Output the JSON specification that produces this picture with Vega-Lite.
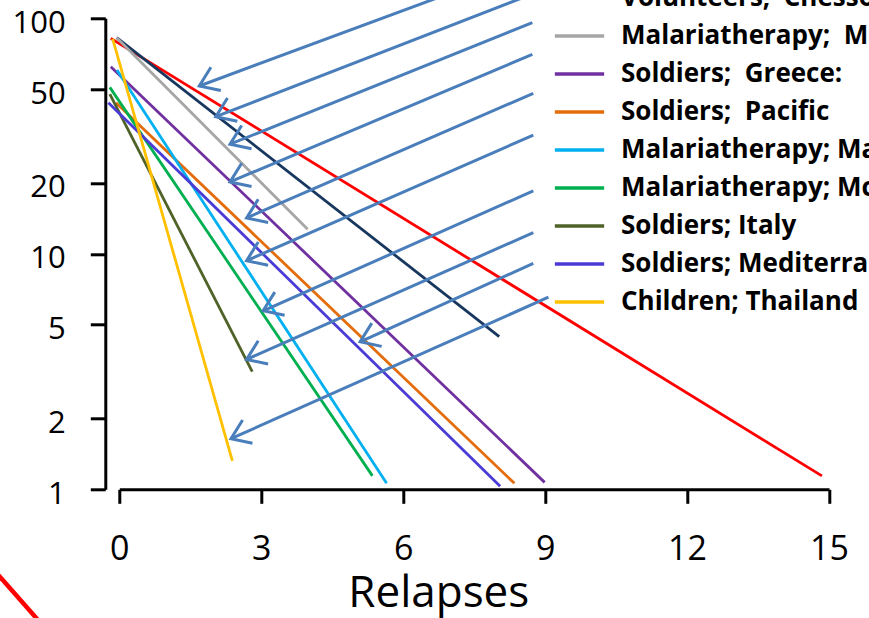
{
  "$schema": "https://vega.github.io/schema/vega-lite/v6.json",
  "autosize": "none",
  "width": 709.7,
  "height": 471,
  "padding": {"left": 119.3, "top": 18.3, "right": 40, "bottom": 128.7},
  "background": "white",
  "config": {
    "view": {"stroke": null},
    "axis": {
      "grid": false,
      "domainColor": "black",
      "domainWidth": 3,
      "tickColor": "black",
      "tickWidth": 3,
      "labelColor": "black",
      "labelFont": "Open Sans",
      "labelFlush": false,
      "titleFont": "Open Sans",
      "titleColor": "black",
      "titleFontWeight": "normal"
    },
    "legend": {
      "orient": "none",
      "legendX": 433.7,
      "legendY": -77.3,
      "padding": 0,
      "symbolType": "stroke",
      "symbolSize": 2430,
      "symbolStrokeWidth": 3.5,
      "labelFont": "Open Sans",
      "labelFontWeight": "bold",
      "labelFontSize": 26,
      "labelColor": "black",
      "labelOffset": 15,
      "labelLimit": 600,
      "clipHeight": 38,
      "rowPadding": 0
    }
  },
  "datasets": {
    "lines": [
      {"group": "Soldiers; New Guinea", "relapses": -0.18, "percent": 82.2},
      {"group": "Soldiers; New Guinea", "relapses": 14.85, "percent": 1.14},
      {"group": "Volunteers;\u00a0 Chesson", "relapses": -0.055, "percent": 82.7},
      {"group": "Volunteers;\u00a0 Chesson", "relapses": 8.03, "percent": 4.45},
      {"group": "Malariatherapy;\u00a0 Madagascar", "relapses": -0.055, "percent": 82.7},
      {"group": "Malariatherapy;\u00a0 Madagascar", "relapses": 3.98, "percent": 12.7},
      {"group": "Soldiers;\u00a0 Greece:", "relapses": -0.18, "percent": 62.3},
      {"group": "Soldiers;\u00a0 Greece:", "relapses": 8.99, "percent": 1.07},
      {"group": "Soldiers;\u00a0 Pacific", "relapses": -0.07, "percent": 43.8},
      {"group": "Soldiers;\u00a0 Pacific", "relapses": 8.35, "percent": 1.06},
      {"group": "Malariatherapy; Mauritius", "relapses": -0.05, "percent": 60.3},
      {"group": "Malariatherapy; Mauritius", "relapses": 5.65, "percent": 1.06},
      {"group": "Malariatherapy; McCoy", "relapses": -0.2, "percent": 50.9},
      {"group": "Malariatherapy; McCoy", "relapses": 5.35, "percent": 1.14},
      {"group": "Soldiers; Italy", "relapses": -0.2, "percent": 47.6},
      {"group": "Soldiers; Italy", "relapses": 2.81, "percent": 3.16},
      {"group": "Soldiers; Mediterranean", "relapses": -0.23, "percent": 43.8},
      {"group": "Soldiers; Mediterranean", "relapses": 8.05, "percent": 1.03},
      {"group": "Children; Thailand", "relapses": -0.14, "percent": 81.7},
      {"group": "Children; Thailand", "relapses": 2.39, "percent": 1.32}
    ],
    "arrows": [
      {"x0": 8.75, "y0": 172.8, "x1": 1.69, "y1": 51.6},
      {"x0": 8.75, "y0": 127.3, "x1": 2.04, "y1": 38.2},
      {"x0": 8.73, "y0": 95.8, "x1": 2.34, "y1": 29.2},
      {"x0": 8.73, "y0": 70.3, "x1": 2.34, "y1": 20.2},
      {"x0": 8.75, "y0": 48.0, "x1": 2.69, "y1": 14.2},
      {"x0": 8.75, "y0": 31.9, "x1": 2.69, "y1": 9.35},
      {"x0": 8.75, "y0": 18.5, "x1": 3.04, "y1": 5.73},
      {"x0": 8.75, "y0": 12.3, "x1": 2.69, "y1": 3.56},
      {"x0": 8.75, "y0": 9.11, "x1": 5.09, "y1": 4.23},
      {"x0": 9.07, "y0": 6.54, "x1": 2.36, "y1": 1.64}
    ],
    "stray": [
      {"x0": -2.63, "y0": 0.45, "x1": -1.68, "y1": 0.273}
    ]
  },
  "layer": [
    {
      "data": {"name": "stray"},
      "mark": {"type": "rule", "color": "#FF0000", "strokeWidth": 4.5},
      "encoding": {
        "x": {"field": "x0", "type": "quantitative"},
        "y": {"field": "y0", "type": "quantitative"},
        "x2": {"field": "x1"},
        "y2": {"field": "y1"}
      }
    },
    {
      "data": {"name": "lines"},
      "mark": {"type": "line", "strokeWidth": 2.8},
      "encoding": {
        "x": {
          "field": "relapses",
          "type": "quantitative",
          "scale": {"domain": [0, 15], "nice": false, "zero": false},
          "axis": {
            "values": [0, 3, 6, 9, 12, 15],
            "tickSize": 14,
            "labelFontSize": 34,
            "labelPadding": 29,
            "title": "Relapses",
            "titleFontSize": 44,
            "titleX": 319,
            "titleY": 117,
            "titleAlign": "center",
            "titleBaseline": "alphabetic"
          }
        },
        "y": {
          "field": "percent",
          "type": "quantitative",
          "scale": {"type": "log", "domain": [1, 100], "nice": false},
          "axis": {
            "values": [1, 2, 5, 10, 20, 50, 100],
            "format": "d",
            "offset": 14,
            "tickSize": 15,
            "labelFontSize": 31,
            "labelPadding": 25,
            "labelOffset": 5,
            "title": null
          }
        },
        "color": {
          "field": "group",
          "type": "nominal",
          "scale": {
            "domain": [
              "Soldiers; New Guinea",
              "Volunteers;\u00a0 Chesson",
              "Malariatherapy;\u00a0 Madagascar",
              "Soldiers;\u00a0 Greece:",
              "Soldiers;\u00a0 Pacific",
              "Malariatherapy; Mauritius",
              "Malariatherapy; McCoy",
              "Soldiers; Italy",
              "Soldiers; Mediterranean",
              "Children; Thailand"
            ],
            "range": [
              "#FF0000",
              "#17375E",
              "#A6A6A6",
              "#7030A0",
              "#E46C0A",
              "#00B0F0",
              "#00B050",
              "#4F6228",
              "#4B3BD6",
              "#FFC000"
            ]
          },
          "legend": {"title": null}
        }
      }
    },
    {
      "data": {"name": "arrows"},
      "mark": {"type": "rule", "color": "#4A7EBB", "strokeWidth": 3},
      "encoding": {
        "x": {"field": "x0", "type": "quantitative"},
        "y": {"field": "y0", "type": "quantitative"},
        "x2": {"field": "x1"},
        "y2": {"field": "y1"}
      }
    },
    {
      "data": {"name": "arrows"},
      "mark": {
        "type": "point",
        "shape": "M1,-0.7L0,0L1,0.7",
        "filled": false,
        "opacity": 1,
        "color": "#4A7EBB",
        "strokeWidth": 3,
        "size": 1300,
        "angle": -23
      },
      "encoding": {
        "x": {"field": "x1", "type": "quantitative"},
        "y": {"field": "y1", "type": "quantitative"}
      }
    }
  ]
}
